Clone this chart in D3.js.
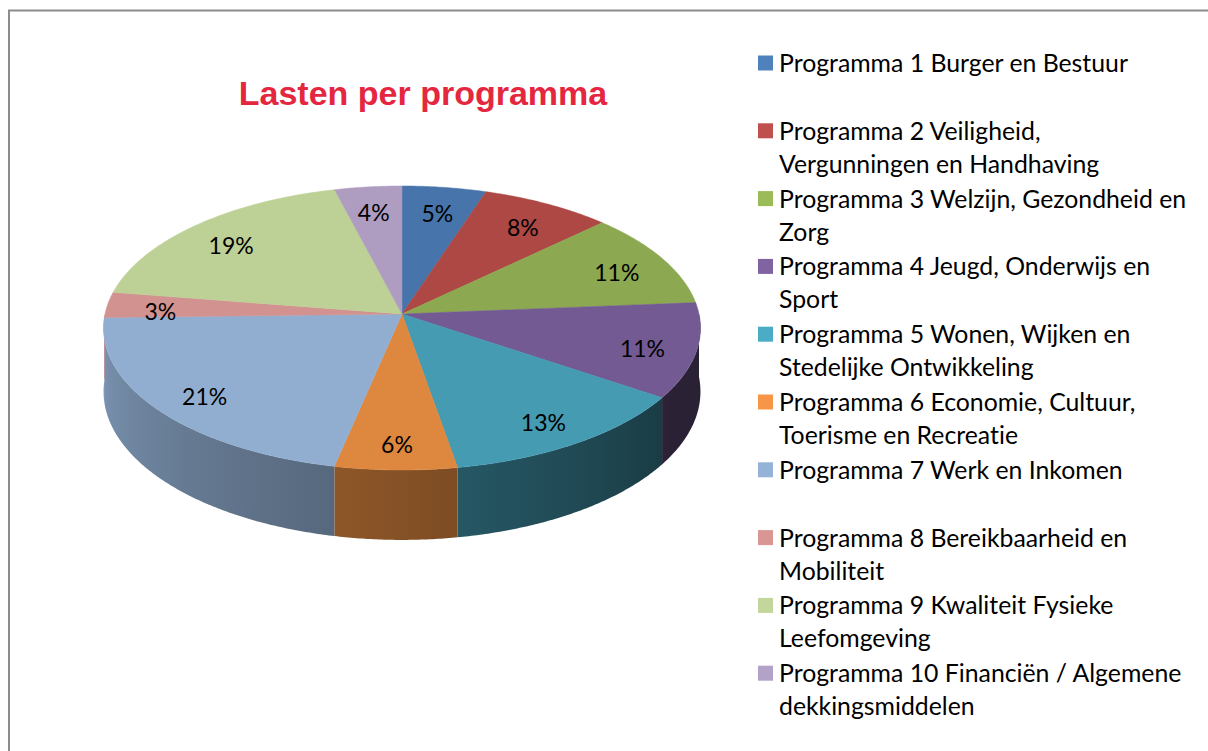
<!DOCTYPE html>
<html>
<head>
<meta charset="utf-8">
<script src="https://cdn.jsdelivr.net/npm/d3@7"></script>
<style>
	body { margin: 0; background: #fff; }
	#chart svg { display: block; }
	#chart text { font-variant-ligatures: none; }
</style>
</head>
<body>
<div id="chart"></div>
<script>
// programma labels, already split the way the legend wraps them
const programmas = [
	['Programma 1 Burger en Bestuur'],
	['Programma 2 Veiligheid,', 'Vergunningen en Handhaving'],
	['Programma 3 Welzijn, Gezondheid en', 'Zorg'],
	['Programma 4 Jeugd, Onderwijs en', 'Sport'],
	['Programma 5 Wonen, Wijken en', 'Stedelijke Ontwikkeling'],
	['Programma 6 Economie, Cultuur,', 'Toerisme en Recreatie'],
	['Programma 7 Werk en Inkomen'],
	['Programma 8 Bereikbaarheid en', 'Mobiliteit'],
	['Programma 9 Kwaliteit Fysieke', 'Leefomgeving'],
	['Programma 10 Financiën / Algemene', 'dekkingsmiddelen']
];

// share of the total (percent)
const lasten = [5.0, 7.8, 10.9, 10.8, 12.8, 6.0, 21.3, 2.9, 18.5, 4.0];

const kleuren = [
	'#4F81BD', '#C0504D', '#9BBB59', '#8064A2', '#4BACC6',
	'#F79646', '#95B3D7', '#D99694', '#C3D69B', '#B3A2C7'
];

const titel = 'Lasten per programma';

const dimensions = {
	width: 1208,
	height: 751
};

const svg = d3.select('#chart')
	.append('svg')
		.attr('width', dimensions.width)
		.attr('height', dimensions.height);

const defs = svg.append('defs');

// chart area border (only left and top are in the crop)
svg.append('path')
	.attr('d', `M9,${dimensions.height} V10.5 H${dimensions.width}`)
	.attr('fill', 'none')
	.attr('stroke', '#8c8c8c')
	.attr('stroke-width', 2);

svg.append('text')
	.attr('x', 423)
	.attr('y', 105)
	.attr('text-anchor', 'middle')
	.style('font-family', '"Liberation Sans", Arial, sans-serif')
	.style('font-weight', 'bold')
	.style('font-size', '34px')
	.attr('fill', '#E4273F')
	.text(titel);

// 3D pie: circle of radius R seen in perspective
const pie3d = {
	cx: 402,
	cy: 314,
	R: 297,
	tilt: 0.4735,
	depth: 63
};
pie3d.dist = pie3d.R * 10.14;

const project = (angle, r, z = 0) => {
	const X = r * Math.sin(angle);
	const Zd = r * Math.cos(angle);
	const s = pie3d.dist / (pie3d.dist + Zd);
	return [pie3d.cx + X * s, pie3d.cy - Zd * pie3d.tilt * s + z * s];
};

const pieGenerator = d3.pie()
	.sort(null)
	.value(d => d);

const slices = pieGenerator(lasten);
const total = d3.sum(lasten);
const pctFormat = d3.format('.0%');

const shade = (color, k) => {
	const c = d3.rgb(color);
	return d3.rgb(c.r * k, c.g * k, c.b * k).formatHex();
};

// side lighting: bright on the left, dark towards the right
const sideLight = d3.scaleLinear()
	.domain([Math.PI * 2 / 3, Math.PI * 1.5])
	.range([0.33, 0.85])
	.clamp(true);

const step = Math.PI / 360;
const xLeft = pie3d.cx - pie3d.R - 10;
const xRight = pie3d.cx + pie3d.R + 10;

// sides (front half only), one horizontal gradient per slice
const sides = svg.append('g');
slices.forEach((sl, i) => {
	const a0 = Math.max(sl.startAngle, Math.PI / 2);
	const a1 = Math.min(sl.endAngle, Math.PI * 1.5);
	if (a1 <= a0) return;

	const grad = defs.append('linearGradient')
		.attr('id', `side-${i}`)
		.attr('gradientUnits', 'userSpaceOnUse')
		.attr('x1', xLeft).attr('x2', xRight)
		.attr('y1', 0).attr('y2', 0);
	const stops = d3.range(0, 181, 5).map(deg => {
		const a = Math.PI * 1.5 - deg * Math.PI / 180;
		return {
			offset: (project(a, pie3d.R)[0] - xLeft) / (xRight - xLeft),
			color: shade(kleuren[i], sideLight(a))
		};
	});
	grad.selectAll('stop')
		.data(stops)
		.join('stop')
			.attr('offset', d => d.offset)
			.attr('stop-color', d => d.color);

	const n = Math.max(2, Math.ceil((a1 - a0) / step));
	const angles = d3.range(n + 1).map(j => a0 + (a1 - a0) * j / n);
	const topRim = angles.map(a => project(a, pie3d.R));
	const bottomRim = angles.slice().reverse().map(a => project(a, pie3d.R, pie3d.depth));
	sides.append('path')
		.attr('d', 'M' + topRim.concat(bottomRim).map(q => q.join(',')).join('L') + 'Z')
		.attr('fill', `url(#side-${i})`);
});

// top faces
const topFace = sl => {
	const n = Math.max(2, Math.ceil((sl.endAngle - sl.startAngle) / step));
	const pts = d3.range(n + 1).map(j =>
		project(sl.startAngle + (sl.endAngle - sl.startAngle) * j / n, pie3d.R));
	return 'M' + [pie3d.cx, pie3d.cy].join(',') + 'L' + pts.map(q => q.join(',')).join('L') + 'Z';
};

// the lighter series (7-10) lose less colour on the lit top
const topColor = i => shade(kleuren[i], i < 6 ? 0.9 : 0.97);

svg.append('g')
	.selectAll('path')
	.data(slices)
	.join('path')
		.attr('d', topFace)
		.attr('fill', (d, i) => topColor(i))
		.attr('stroke', (d, i) => topColor(i))
		.attr('stroke-width', 0.5);

// data labels
svg.append('g')
	.selectAll('text')
	.data(slices)
	.join('text')
		.attr('x', d => project((d.startAngle + d.endAngle) / 2, pie3d.R * 0.82)[0])
		.attr('y', d => project((d.startAngle + d.endAngle) / 2, pie3d.R * 0.82)[1] + 5)
		.attr('dy', '0.36em')
		.attr('text-anchor', 'middle')
		.style('font-family', 'Lato, "Open Sans", sans-serif')
		.style('font-size', '23px')
		.attr('fill', '#000')
		.text(d => pctFormat(d.value / total));

// legend
const legend = svg.append('g')
	.style('font-family', 'Lato, "Open Sans", sans-serif')
	.style('font-size', '24.8px');

const legendItem = legend.selectAll('g')
	.data(programmas)
	.join('g')
		.attr('transform', (d, i) => `translate(758, ${63 + i * 67.8})`);

legendItem.append('rect')
	.attr('x', 0)
	.attr('y', -7.5)
	.attr('width', 15)
	.attr('height', 15)
	.attr('fill', (d, i) => kleuren[i]);

legendItem.selectAll('text')
	.data(d => d)
	.join('text')
		.attr('x', 21)
		.attr('y', (d, j) => j * 33)
		.attr('dy', '0.36em')
		.attr('fill', '#000')
		.text(d => d);
</script>
</body>
</html>
